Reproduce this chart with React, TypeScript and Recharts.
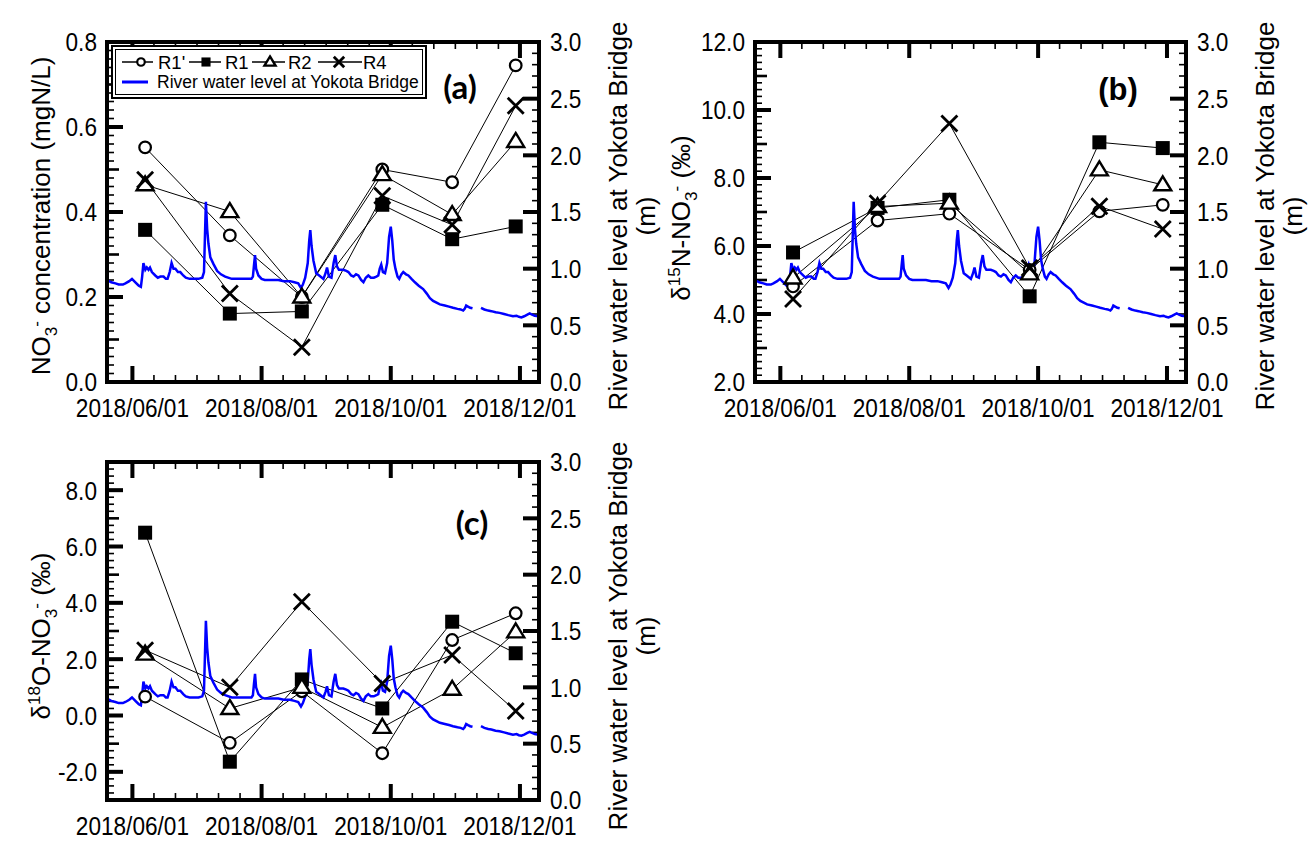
import React from "react";
import { ComposedChart, Line, XAxis, YAxis, Legend, ReferenceLine, ReferenceArea } from "recharts";

const FONT = "'Liberation Sans', Arial, Helvetica, sans-serif";

// sampling days, counted from 2018/06/01
const sampleDays = [6, 46, 80, 118, 151, 181];
const stations = ["R1'", "R1", "R2", "R4"];
const markers = ["circle", "square", "triangle", "cross"];

// (a) NO3- concentration (mgN/L)
const no3R1p = [0.552, 0.345, 0.2, 0.5, 0.47, 0.745];
const no3R1 = [0.358, 0.161, 0.166, 0.417, 0.336, 0.366];
const no3R2 = [0.464, 0.401, 0.2, 0.488, 0.394, 0.566];
const no3R4 = [0.476, 0.208, 0.082, 0.438, 0.37, 0.65];

// (b) d15N-NO3- (permil)
const d15nR1p = [4.81, 6.75, 6.95, 5.3, 7.02, 7.21];
const d15nR1 = [5.81, 7.12, 7.36, 4.52, 9.05, 8.88];
const d15nR2 = [5.06, 7.16, 7.26, 5.18, 8.24, 7.8];
const d15nR4 = [4.44, 7.26, 9.6, 5.35, 7.17, 6.5];

// (c) d18O-NO3- (permil)
const d18oR1p = [0.67, -0.97, 0.86, -1.34, 2.68, 3.63];
const d18oR1 = [6.49, -1.64, 1.28, 0.25, 3.33, 2.21];
const d18oR2 = [2.18, 0.25, 1.0, -0.42, 0.93, 2.97];
const d18oR4 = [2.32, 1.0, 4.04, 1.14, 2.15, 0.16];

// river water level at Yokota Bridge (m), days from 2018/06/01
const levelDays = [
  -12, -10, -8, -6.5, -4.5, -3.3, -1.5, -0.2, 1.4, 3, 4, 4.6, 5.2, 6.1, 6.8, 7.6, 8.3, 9.2, 10.8, 12,
  13.2, 14.7, 15.8, 16.6, 17.6, 18.5, 19.4, 20.3, 21.5, 22.6, 24, 25.2, 27, 29, 31.2, 33, 33.8, 34.2, 34.7, 35.3,
  35.9, 36.8, 38.3, 40, 41.8, 43.8, 46.9, 50, 53.2, 56.2, 56.9, 57.4, 57.9, 58.4, 59.5, 61, 62.5, 65, 68.9, 71.5,
  74.4, 76.5, 78.3, 79.6, 80.5, 81.6, 82.8, 83.5, 84, 84.6, 85.5, 86.8, 88.2, 90.2, 91.2, 91.9, 92.8, 94, 95, 95.8,
  96.6, 97.5, 99.6, 101, 102, 103.3, 104.4, 105.6, 106.7, 108, 109.1, 110.2, 111.4, 112.6, 114, 115.2, 116.1, 116.8, 117.5, 118.3,
  119.3, 120.3, 121.2, 122, 122.7, 123.4, 124.2, 125.2, 126, 127, 127.9, 129.2, 130.3, 131.8, 133.4, 135.2, 137.3, 139, 140.5, 142,
  143.6, 145.2, 147.5, 149.5, 151.4, 153.5, 155, 156.2, 156.9, 157.6, 158.5, 159.5, 160.6, 162.5, 164.6, 166.2, 168, 169.5, 171.5, 173.4,
  175.5, 177.5, 179.7, 181.4, 182.5, 183.7, 185, 186.5, 187.6, 188.7, 190, 191.8,
];
const levelM = [
  0.9, 0.88, 0.87, 0.86, 0.86, 0.87, 0.89, 0.91, 0.88, 0.85, 0.84, 0.93, 1.05, 0.99, 1.01, 0.99, 1.01, 0.97, 0.94, 0.92,
  0.93, 0.93, 0.91, 0.91, 0.97, 1.05, 1.0, 1.0, 0.97, 0.97, 0.94, 0.92, 0.91, 0.91, 0.91, 0.92, 0.97, 1.25, 1.59, 1.35,
  1.22, 1.1, 1.04, 0.98, 0.95, 0.93, 0.91, 0.91, 0.91, 0.91, 0.93, 1.03, 1.12, 1.0, 0.94, 0.91, 0.9, 0.9, 0.9, 0.89,
  0.89, 0.88, 0.87, 0.83, 0.86, 0.92, 1.05, 1.25, 1.34, 1.2, 1.07, 0.96, 0.94, 0.91, 0.96, 1.01, 0.93, 0.92, 1.05, 1.12,
  1.02, 0.99, 0.99, 0.98, 0.97, 0.94, 0.93, 0.95, 0.94, 0.9, 0.88, 0.92, 0.94, 0.92, 0.92, 0.93, 0.94, 1.0, 1.035, 0.97,
  0.96, 1.05, 1.28, 1.37, 1.25, 1.08, 1.0, 0.93, 0.91, 0.95, 0.97, 0.95, 0.94, 0.91, 0.88, 0.85, 0.82, 0.78, 0.74, 0.715,
  0.7, 0.685, 0.675, 0.665, 0.655, 0.645, 0.64, 0.63, 0.645, 0.675, 0.665, 0.655, 0.65, null, 0.655, 0.64, 0.63, 0.625, 0.615, 0.61,
  0.6, 0.59, 0.58, 0.585, 0.575, 0.57, 0.58, 0.595, 0.605, 0.595, 0.585, 0.58,
];

const xDomain = [-12, 192];
const rightDomain = [0, 3];
const dateTicks = [0, 61, 122, 183];
const dateLabels = ["2018/06/01", "2018/08/01", "2018/10/01", "2018/12/01"];

function steps(lo: number, hi: number, step: number) {
  const out: number[] = [];
  const n = Math.round((hi - lo) / step);
  for (let i = 0; i <= n; i++) out.push(+(lo + i * step).toFixed(4));
  return out;
}

const xTicks = steps(0, 183, 61 / 6);
const rightTicks = steps(0, 3, 0.1);

const LEFT_GAP = 10;
const RIGHT_GAP = 11;
const BOTTOM_GAP = 17;
const TICK: Record<string, number[]> = { major: [16, 4], medium: [12, 2.6], minor: [7, 1.6] };
const frame = { stroke: "#000", strokeWidth: 4, strokeLinecap: "square" as const };

// Arial advance widths (em) used to squeeze labels like the narrow face of the original
const ADV: Record<string, number> = { ".": 0.278, "/": 0.278, "-": 0.333 };
const narrow = (s: string, size: number, k = 0.87) =>
  s.split("").reduce((a, ch) => a + (ADV[ch] ?? 0.556), 0) * size * k;

const isMult = (v: number, s: number) => Math.abs(v / s - Math.round(v / s)) < 1e-6;
const kindOf = (v: number, major: number, medium: number) =>
  isMult(v, major) ? "major" : isMult(v, medium) ? "medium" : "minor";
const isDateTick = (d: number) => dateTicks.some((t) => Math.abs(t - d) < 1e-6);

function NarrowText({ x, y, dy, anchor, size = 26, children }: any) {
  const s = String(children);
  return (
    <text x={x} y={y} dy={dy} textAnchor={anchor} fontSize={size} fontFamily={FONT} fill="#000"
      textLength={narrow(s, size)} lengthAdjust="spacingAndGlyphs">
      {s}
    </text>
  );
}

function yLabel(side: "left" | "right", major: number) {
  return (p: any) => {
    const v = p.payload.value;
    if (!isMult(v, major)) return <g />;
    return (
      <NarrowText x={p.x} y={p.y} dy="0.36em" anchor={side === "left" ? "end" : "start"}>
        {v.toFixed(1)}
      </NarrowText>
    );
  };
}

function xLabel(p: any) {
  const idx = dateTicks.findIndex((d) => Math.abs(d - p.payload.value) < 1e-6);
  if (idx < 0) return <g />;
  return (
    <NarrowText x={p.x} y={p.y} dy="0.71em" anchor="middle">
      {dateLabels[idx]}
    </NarrowText>
  );
}

// inward ticks on all four sides, placed inside the plot box that ReferenceArea hands over
function FrameTicks({ x, y, width, height, yDomain, yTicks, yMajor, yMedium }: any) {
  if (x == null || y == null) return null;
  const px = (d: number) => x + ((d - xDomain[0]) / (xDomain[1] - xDomain[0])) * width;
  const pyL = (v: number) => y + height - ((v - yDomain[0]) / (yDomain[1] - yDomain[0])) * height;
  const pyR = (v: number) => y + height - ((v - rightDomain[0]) / (rightDomain[1] - rightDomain[0])) * height;
  const out: React.ReactNode[] = [];
  yTicks.forEach((v: number, i: number) => {
    const [len, w] = TICK[kindOf(v, yMajor, yMedium)];
    out.push(<rect key={`l${i}`} x={x} y={pyL(v) - w / 2} width={len} height={w} fill="#000" />);
  });
  rightTicks.forEach((v, i) => {
    const [len, w] = TICK[kindOf(v, 0.5, 0.5)];
    out.push(<rect key={`r${i}`} x={x + width - len} y={pyR(v) - w / 2} width={len} height={w} fill="#000" />);
  });
  xTicks.forEach((d, i) => {
    const [len, w] = TICK[isDateTick(d) ? "major" : "minor"];
    out.push(<rect key={`b${i}`} x={px(d) - w / 2} y={y + height - len} width={w} height={len} fill="#000" />);
    out.push(<rect key={`t${i}`} x={px(d) - w / 2} y={y} width={w} height={len} fill="#000" />);
  });
  return <g>{out}</g>;
}

function Marker({ cx, cy, shape, small }: any) {
  if (cx == null || cy == null) return null;
  const s = small ? 0.65 : 1;
  if (shape === "circle")
    return <circle cx={cx} cy={cy} r={5.8 * s} fill="#fff" stroke="#000" strokeWidth={2.2} />;
  if (shape === "square")
    return <rect x={cx - 7 * s} y={cy - 7 * s} width={14 * s} height={14 * s} fill="#000" />;
  if (shape === "triangle") {
    const pts = `${cx},${cy - 8.5 * s} ${cx + 8.5 * s},${cy + 5.5 * s} ${cx - 8.5 * s},${cy + 5.5 * s}`;
    return <polygon points={pts} fill="#fff" stroke="#000" strokeWidth={2.4} strokeLinejoin="miter" />;
  }
  const h = 8 * s;
  return (
    <path d={`M${cx - h},${cy - h}L${cx + h},${cy + h}M${cx + h},${cy - h}L${cx - h},${cy + h}`}
      stroke="#000" strokeWidth={2.8} />
  );
}

function LegendBox() {
  const y1 = 17;
  const y2 = 37;
  const items = [
    { x0: 11, x1: 42, mx: 30, tx: 47 },
    { x0: 78, x1: 110, mx: 95, tx: 114 },
    { x0: 141, x1: 174, mx: 159, tx: 177 },
    { x0: 207, x1: 251, mx: 228, tx: 252 },
  ];
  return (
    <svg width={316} height={55} style={{ display: "block" }}>
      <rect x={1} y={1} width={314} height={52} fill="#fff" stroke="#000" strokeWidth={2} />
      <rect x={4.5} y={4.5} width={307} height={45} fill="none" stroke="#000" strokeWidth={1} />
      {stations.map((s, i) => (
        <g key={s}>
          <line x1={items[i].x0} x2={items[i].x1} y1={y1} y2={y1} stroke="#000" strokeWidth={1.5} />
          <Marker cx={items[i].mx} cy={y1} shape={markers[i]} small />
          <text x={items[i].tx} y={y1} dy="0.36em" fontSize={18.5} fontFamily={FONT}>{s}</text>
        </g>
      ))}
      <line x1={11} x2={37} y1={y2} y2={y2} stroke="#0000ff" strokeWidth={3} />
      <text x={46} y={y2} dy="0.36em" fontSize={17.5} fontFamily={FONT}>River water level at Yokota Bridge</text>
    </svg>
  );
}

type PanelCfg = {
  left: number;
  top: number;
  width: number;
  height: number;
  plot: { left: number; top: number; right: number; bottom: number };
  yDomain: number[];
  yStep: number;
  yMajor: number;
  yMedium: number;
  series: number[][];
  legend?: boolean;
};

function Panel(c: PanelCfg) {
  const yTicks = steps(c.yDomain[0], c.yDomain[1], c.yStep);
  const rows = c.series.map((vals) => sampleDays.map((d, i) => ({ day: d, v: vals[i] })));
  const level = levelDays.map((d, i) => ({ day: d, m: levelM[i] }));
  return (
    <div style={{ position: "absolute", left: c.left, top: c.top }}>
      <ComposedChart width={c.width} height={c.height} margin={{ top: c.plot.top, right: 0, bottom: 0, left: 0 }}>
        <XAxis dataKey="day" type="number" domain={xDomain} ticks={xTicks} interval={0}
          tickSize={0} tickMargin={BOTTOM_GAP} tickLine={false} height={c.height - c.plot.bottom}
          axisLine={frame} tick={xLabel} />
        <YAxis yAxisId="left" type="number" domain={c.yDomain} width={c.plot.left}
          ticks={yTicks} interval={0} tickSize={0} tickMargin={LEFT_GAP}
          tickLine={false} axisLine={frame} tick={yLabel("left", c.yMajor)} />
        <YAxis yAxisId="right" orientation="right" type="number" domain={rightDomain}
          width={c.width - c.plot.right} ticks={rightTicks} interval={0} tickSize={0} tickMargin={RIGHT_GAP}
          tickLine={false} axisLine={frame} tick={yLabel("right", 0.5)} />
        <ReferenceArea yAxisId="left" x1={xDomain[0]} x2={xDomain[1]} y1={c.yDomain[0]} y2={c.yDomain[1]}
          ifOverflow="visible"
          shape={(p: any) => (
            <FrameTicks x={p.x} y={p.y} width={p.width} height={p.height} yDomain={c.yDomain}
              yTicks={yTicks} yMajor={c.yMajor} yMedium={c.yMedium} />
          )} />
        <ReferenceLine yAxisId="left" y={c.yDomain[1]} stroke="#000" strokeWidth={4} strokeLinecap="square" />
        {rows.map((r, i) => (
          <Line key={stations[i]} yAxisId="left" data={r} dataKey="v" name={stations[i]} stroke="#000"
            strokeWidth={1} activeDot={false} isAnimationActive={false}
            dot={(p: any) => <Marker key={`${i}-${p.index}`} cx={p.cx} cy={p.cy} shape={markers[i]} />} />
        ))}
        <Line yAxisId="right" data={level} dataKey="m" name="River water level at Yokota Bridge" stroke="#0000ff"
          strokeWidth={2.5} dot={false} activeDot={false} isAnimationActive={false} />
        {c.legend && (
          <Legend layout="vertical" align="center" verticalAlign="middle" content={() => <LegendBox />}
            wrapperStyle={{ left: 111, top: 45, width: 316, height: 55 }} />
        )}
      </ComposedChart>
    </div>
  );
}

function VText({ cx, cy, size = 26, children }: any) {
  return (
    <text transform={`rotate(-90 ${cx} ${cy})`} x={cx} y={cy} dy="0.35em" textAnchor="middle"
      fontSize={size} fontFamily={FONT} fill="#000">
      {children}
    </text>
  );
}

function RiverTitle({ x, cy }: { x: number; cy: number }) {
  return (
    <g>
      <VText cx={x} cy={cy}>River water level at Yokota Bridge</VText>
      <VText cx={x + 28} cy={cy}>(m)</VText>
    </g>
  );
}

function Titles() {
  return (
    <svg width={1309} height={843} style={{ position: "absolute", left: 0, top: 0, pointerEvents: "none" }}>
      <VText cx={41} cy={216}>
        NO<tspan dy="7" fontSize="17">3</tspan><tspan dy="-15" fontSize="17">-</tspan>
        <tspan dy="8"> concentration (mgN/L)</tspan>
      </VText>
      <RiverTitle x={618} cy={216} />
      <VText cx={681} cy={218}>
        δ<tspan dy="-10" fontSize="17">15</tspan><tspan dy="10">N-NO</tspan>
        <tspan dy="7" fontSize="17">3</tspan><tspan dy="-15" fontSize="17">-</tspan><tspan dy="8"> (‰)</tspan>
      </VText>
      <RiverTitle x={1265} cy={216} />
      <VText cx={41} cy={636}>
        δ<tspan dy="-10" fontSize="17">18</tspan><tspan dy="10">O-NO</tspan>
        <tspan dy="7" fontSize="17">3</tspan><tspan dy="-15" fontSize="17">-</tspan><tspan dy="8"> (‰)</tspan>
      </VText>
      <RiverTitle x={618} cy={636} />
      <text x={460} y={87} dy="0.35em" textAnchor="middle" fontSize={33} fontWeight={700} fontFamily="Lato, sans-serif">(a)</text>
      <text x={1118} y={89} dy="0.35em" textAnchor="middle" fontSize={31} fontWeight={700} fontFamily={FONT}>(b)</text>
      <text x={472} y={523} dy="0.35em" textAnchor="middle" fontSize={33} fontWeight={700} fontFamily="Lato, sans-serif">(c)</text>
    </svg>
  );
}

export default function App() {
  return (
    <div style={{ position: "absolute", left: 0, top: 0, width: 1309, height: 843, background: "#fff" }}>
      <Panel left={0} top={0} width={680} height={440}
        plot={{ left: 107, top: 42, right: 539, bottom: 382 }}
        yDomain={[0, 0.8]} yStep={0.02} yMajor={0.2} yMedium={0.1}
        series={[no3R1p, no3R1, no3R2, no3R4]} legend />
      <Panel left={650} top={0} width={659} height={440}
        plot={{ left: 105, top: 42, right: 536, bottom: 382 }}
        yDomain={[2, 12]} yStep={0.2} yMajor={2} yMedium={1}
        series={[d15nR1p, d15nR1, d15nR2, d15nR4]} />
      <Panel left={0} top={420} width={680} height={423}
        plot={{ left: 107, top: 42, right: 539, bottom: 380 }}
        yDomain={[-3, 9]} yStep={0.25} yMajor={2} yMedium={1}
        series={[d18oR1p, d18oR1, d18oR2, d18oR4]} />
      <Titles />
    </div>
  );
}
